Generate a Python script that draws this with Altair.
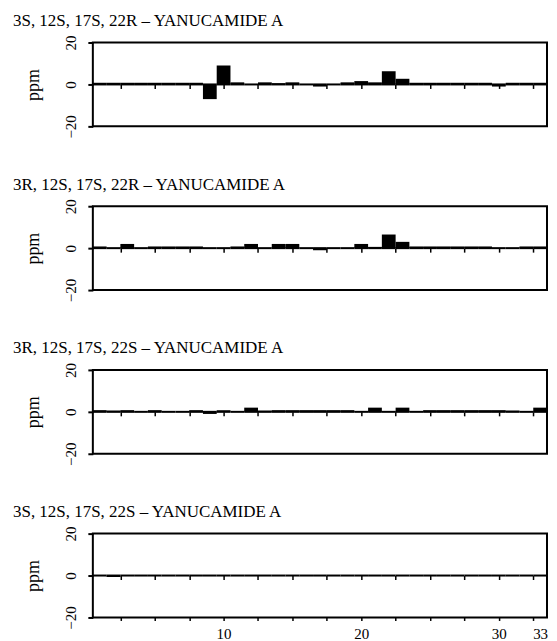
import altair as alt
import pandas as pd

FONT = "Liberation Serif"

positions = [1, 2, 3, 4, 5, 6, 7, 8, 9, 10, 11, 12, 13, 14, 15, 16, 17,
             18, 19, 20, 21, 22, 23, 24, 25, 26, 27, 28, 29, 30, 31, 32, 33]

titles = [
    "3S, 12S, 17S, 22R \u2013 YANUCAMIDE A",
    "3R, 12S, 17S, 22R \u2013 YANUCAMIDE A",
    "3R, 12S, 17S, 22S \u2013 YANUCAMIDE A",
    "3S, 12S, 17S, 22S \u2013 YANUCAMIDE A",
]

ppm_1 = [0.8, 0.8, 0.8, 0.8, 0.8, 0.8, 0.8, 0.8, -7.0, 9.0, 1.0, 0.0, 1.0,
         0.6, 1.0, 0.0, -1.0, 0.0, 1.0, 1.6, 1.0, 6.3, 2.7, 0.8, 0.8, 0.8,
         0.8, 0.8, 0.8, -1.0, 0.8, 0.8, 0.8]
ppm_2 = [0.8, 0.0, 2.0, 0.0, 0.8, 0.8, 0.8, 0.8, 0.0, 0.0, 0.8, 2.0, 0.0,
         2.0, 2.0, 0.0, -1.0, 0.0, 0.0, 2.0, 0.6, 6.5, 3.0, 0.8, 0.8, 0.8,
         0.8, 0.8, 0.8, 0.0, 0.0, 0.8, 0.8]
ppm_3 = [0.8, 0.6, 0.8, 0.0, 0.8, 0.0, 0.0, 0.8, -1.0, 0.8, 0.0, 2.0, 0.6,
         0.8, 0.8, 0.8, 0.8, 0.8, 0.8, 0.3, 2.0, 0.3, 2.0, 0.4, 0.8, 0.8,
         0.8, 0.8, 0.8, 0.8, 0.6, 0.0, 2.0]
ppm_4 = [0.0, -0.7, 0.0, 0.0, 0.0, 0.0, 0.0, 0.0, 0.0, 0.0, 0.0, 0.0, 0.0,
         0.0, 0.0, 0.0, 0.0, 0.0, 0.0, 0.0, 0.0, 0.0, 0.0, 0.0, 0.0, 0.0,
         0.0, 0.0, 0.0, 0.0, 0.0, 0.0, 0.0]
series = [ppm_1, ppm_2, ppm_3, ppm_4]

x_ticks = [2.5, 5, 7.5, 10, 12.5, 15, 17.5, 20, 22.5, 25, 27.5, 30, 32.5]
x_labels = [10, 20, 30, 33]
y_ticks = [-20, -15, -10, -5, 0, 5, 10, 15, 20]
y_labels = [-20, 0, 20]

PW, PH = 455, 84

xscale = alt.Scale(domain=[0.5, 33.5], nice=False, zero=False)
yscale = alt.Scale(domain=[-20, 20], nice=False, zero=False)

yaxis = alt.Axis(
    values=y_ticks,
    labelExpr="indexof(%s, datum.value) >= 0 ? datum.label : ''" % str(y_labels),
    labelAngle=270, labelAlign="center", labelBaseline="alphabetic",
    labelPadding=12, labelFont=FONT, labelFontSize=15, labelColor="black",
    tickSize=5, tickWidth=2, tickColor="black", domain=False, grid=False,
    title="ppm", titleFont=FONT, titleFontSize=18, titleFontWeight="normal",
    titleColor="black", titlePadding=21,
)

zero_axis = alt.Axis(
    values=x_ticks, labels=False, domain=False, grid=False, title=None,
    tickSize=4, tickWidth=1.5, tickColor="black", orient="bottom",
    offset=-PH / 2, zindex=1,
)

bottom_axis = alt.Axis(
    values=x_ticks + [33],
    labelExpr="indexof(%s, datum.value) >= 0 ? datum.label : ''" % str(x_labels),
    tickOpacity={"condition": {"test": "datum.value == 33", "value": 0}, "value": 1},
    labelFlush=False, labelFont=FONT, labelFontSize=15, labelColor="black",
    labelPadding=6, tickSize=3, tickWidth=1.5, tickColor="black",
    domain=False, grid=False, title=None, orient="bottom",
)


def panel(vals, title, last):
    df = pd.DataFrame({"pos": positions, "ppm": vals})
    base = alt.Chart(df).transform_calculate(
        lo="datum.pos - 0.5", hi="datum.pos + 0.5"
    )
    bars = base.mark_bar(color="black", stroke=None).encode(
        x=alt.X("lo:Q", scale=xscale, axis=bottom_axis if last else None),
        x2="hi:Q",
        y=alt.Y("ppm:Q", scale=yscale, axis=yaxis),
        y2=alt.datum(0),
    )
    zero = base.mark_rule(color="black", strokeWidth=2).encode(
        x=alt.X("lo:Q", scale=xscale, axis=zero_axis),
        x2="hi:Q",
        y=alt.datum(0),
    )
    return alt.layer(bars, zero).resolve_axis(x="independent").properties(
        width=PW, height=PH,
        title=alt.TitleParams(
            text=title, anchor="start", frame="group", dx=-80, dy=25, offset=17,
            baseline="alphabetic", font=FONT, fontSize=17, fontWeight="normal",
            color="black",
        ),
    )


chart = alt.vconcat(
    *[panel(v, t, i == 3) for i, (v, t) in enumerate(zip(series, titles))],
    spacing=35,
).properties(
    padding={"left": 4, "top": 2, "right": 0, "bottom": 0},
    background="white",
).configure_view(stroke="black", strokeWidth=2)

chart.save("out.html", embed_options={"renderer": "svg", "actions": False})
